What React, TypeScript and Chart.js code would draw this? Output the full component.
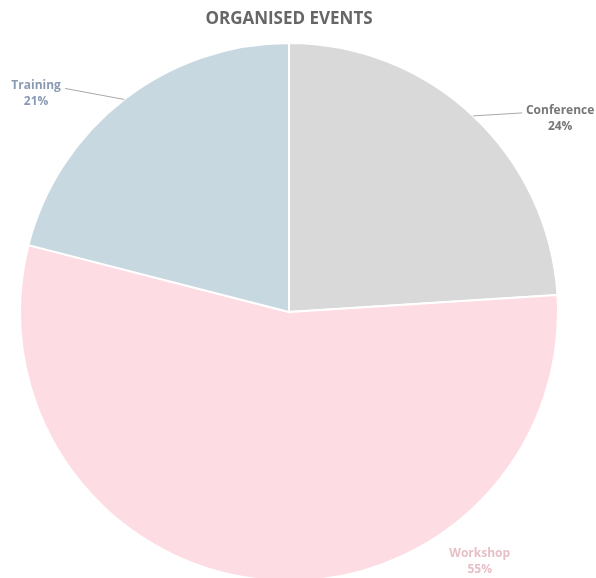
import React, { useEffect, useRef } from "react";
import { Chart, registerables } from "chart.js";

Chart.register(...registerables);

const categories = ["Conference", "Workshop", "Training"];
const shares = [24, 55, 21];
const sliceColors = ["#d9d9d9", "#fddde3", "#c8d8e1"];
const labelColors = ["#777777", "#e6bfc7", "#8a9ab3"];
const titleText = "ORGANISED EVENTS";

// label placement relative to the slice's mid-arc point (style only)
const labelPlacement = [
  { ex: 49, ey: -3, tx: 87, ty: -5, line: true },
  { ex: 0, ey: 0, tx: 216, ty: -26, line: false },
  { ex: -59, ey: -11, tx: -88, ty: -14, line: true },
];

const FONT = "'Open Sans', 'DejaVu Sans', sans-serif";

const outsideLabels = {
  id: "outsideLabels",
  afterDatasetsDraw(chart: any) {
    const ctx = chart.ctx;
    const meta = chart.getDatasetMeta(0);
    ctx.save();
    meta.data.forEach((arc: any, i: number) => {
      const { x, y, startAngle, endAngle, outerRadius } = arc.getProps(
        ["x", "y", "startAngle", "endAngle", "outerRadius"],
        true
      );
      const mid = (startAngle + endAngle) / 2;
      const px = x + Math.cos(mid) * outerRadius;
      const py = y + Math.sin(mid) * outerRadius;
      const p = labelPlacement[i];
      if (p.line) {
        ctx.strokeStyle = "#a8a8a8";
        ctx.lineWidth = 1;
        ctx.beginPath();
        ctx.moveTo(px, py);
        ctx.lineTo(px + p.ex, py + p.ey);
        ctx.stroke();
      }
      ctx.fillStyle = labelColors[i];
      ctx.font = `bold 12px ${FONT}`;
      ctx.textAlign = "center";
      ctx.textBaseline = "middle";
      ctx.fillText(categories[i], px + p.tx, py + p.ty);
      ctx.fillText(`${shares[i]}%`, px + p.tx, py + p.ty + 16);
    });
    ctx.restore();
  },
};

export default function App() {
  const ref = useRef<HTMLCanvasElement | null>(null);
  useEffect(() => {
    if (!ref.current) return;
    const chart = new Chart(ref.current, {
      type: "pie",
      data: {
        labels: categories,
        datasets: [
          {
            data: shares,
            backgroundColor: sliceColors,
            borderColor: "#ffffff",
            borderWidth: 2,
            radius: 269,
            clip: false as any,
          } as any,
        ],
      },
      options: {
        responsive: false,
        animation: false,
        layout: { padding: { top: 0, bottom: 0, left: 0, right: 18 } },
        plugins: {
          legend: { display: false },
          tooltip: { enabled: false },
          title: {
            display: true,
            text: titleText,
            color: "#666666",
            font: { family: FONT, size: 17, weight: "bold" },
            padding: { top: 9, bottom: 16.6 },
          },
        },
      },
      plugins: [outsideLabels],
    });
    return () => chart.destroy();
  }, []);
  return (
    <div style={{ position: "fixed", left: 0, top: 0, width: 596, height: 578, background: "#fff" }}>
      <canvas ref={ref} width={596} height={578} />
    </div>
  );
}
